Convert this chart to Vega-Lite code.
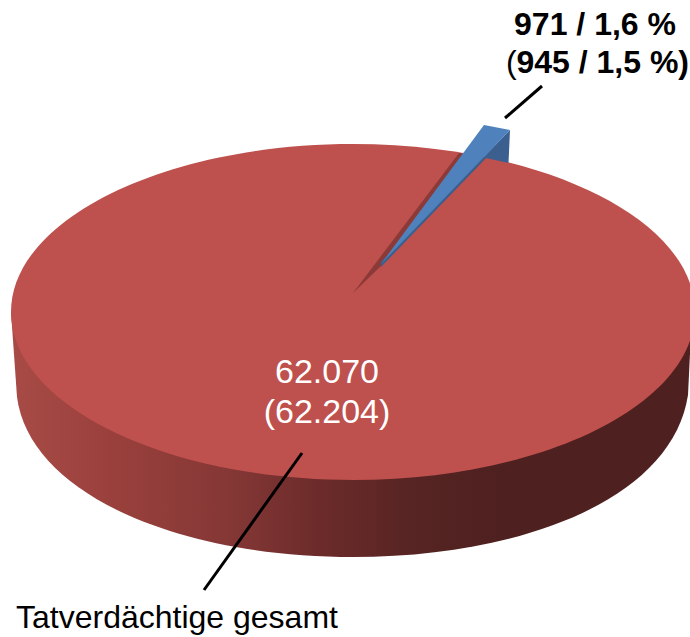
{"$schema":"https://vega.github.io/schema/vega-lite/v6.json","width":690,"height":637,"padding":0,"autosize":"none","background":"white","config":{"view":{"stroke":null},"text":{"font":"Liberation Sans"}},"resolve":{"scale":{"x":"shared","y":"shared"}},"encoding":{"x":{"datum":0,"type":"quantitative","scale":{"domain":[0,690],"nice":false,"zero":false},"axis":null},"y":{"datum":0,"type":"quantitative","scale":{"domain":[0,637],"range":[0,637],"nice":false,"zero":false},"axis":null}},"layer":[
{"data":{"values":[{"slice":"Tatverdächtige gesamt","part":"Mantel","count":62070,"previous":62204}]},"mark":{"type":"point","filled":true,"opacity":1,"size":4,"strokeWidth":0,"shape":"M11,312 L17,397 C30,495 180,557 353,557 C520,557 672,500 688,395 L692,312 Z","fill":{"gradient":"linear","x1":0,"y1":0,"x2":1,"y2":0,"stops":[{"offset":0,"color":"#A84B47"},{"offset":0.15,"color":"#9A403C"},{"offset":0.33,"color":"#833735"},{"offset":0.45,"color":"#6C2B2A"},{"offset":0.6,"color":"#552423"},{"offset":0.72,"color":"#4E201F"},{"offset":1,"color":"#4E201F"}]}}},
{"data":{"values":[{"slice":"Tatverdächtige gesamt","part":"Deckfläche","count":62070,"previous":62204}]},"mark":{"type":"point","filled":true,"opacity":1,"size":4,"strokeWidth":0,"fill":"#BE504D","shape":"M11,312 C11,219 165,144 353,144 C541,144 695,219 695,312 C695,405 541,480 353,480 C165,480 11,405 11,312 Z"}},
{"data":{"values":[{"slice":"Tatverdächtige gesamt","part":"Kerbe","count":62070}]},"mark":{"type":"point","filled":true,"opacity":1,"size":4,"strokeWidth":0,"fill":"#8C3A38","shape":"M353,293 L459,153 L486,158 L381,266 Z"}},
{"data":{"values":[{"slice":"Teilgruppe","part":"Seite","count":971,"share":1.6,"previous":945,"previousShare":1.5}]},"mark":{"type":"point","filled":true,"opacity":1,"size":4,"strokeWidth":0,"fill":"#3B5F8E","shape":"M510,130 L508.5,163 L486,158 L381,267 L381,262 Z"}},
{"data":{"values":[{"slice":"Teilgruppe","part":"Oberseite","count":971,"share":1.6,"previous":945,"previousShare":1.5}]},"mark":{"type":"point","filled":true,"opacity":1,"size":4,"strokeWidth":0,"fill":"#4F81BD","shape":"M484,125 L510,130 L381,264 Z"}},
{"data":{"values":[{"label":"Tatverdächtige gesamt"}]},"mark":{"type":"rule","color":"black","strokeWidth":3},"encoding":{"x":{"datum":204,"type":"quantitative"},"y":{"datum":590,"type":"quantitative"},"x2":{"datum":302},"y2":{"datum":453}}},
{"data":{"values":[{"label":"971 / 1,6 %"}]},"mark":{"type":"rule","color":"black","strokeWidth":3},"encoding":{"x":{"datum":505,"type":"quantitative"},"y":{"datum":118,"type":"quantitative"},"x2":{"datum":542},"y2":{"datum":86}}},
{"data":{"values":[{"label":"62.070"}]},"mark":{"type":"text","fontSize":34,"color":"white","align":"center","baseline":"alphabetic"},"encoding":{"x":{"datum":327,"type":"quantitative"},"y":{"datum":383,"type":"quantitative"},"text":{"field":"label"}}},
{"data":{"values":[{"label":"(62.204)"}]},"mark":{"type":"text","fontSize":34,"color":"white","align":"center","baseline":"alphabetic"},"encoding":{"x":{"datum":327,"type":"quantitative"},"y":{"datum":423,"type":"quantitative"},"text":{"field":"label"}}},
{"data":{"values":[{"label":"Tatverdächtige gesamt"}]},"mark":{"type":"text","fontSize":32,"color":"black","align":"left","baseline":"alphabetic"},"encoding":{"x":{"datum":16,"type":"quantitative"},"y":{"datum":628,"type":"quantitative"},"text":{"field":"label"}}},
{"data":{"values":[{"label":"971 / 1,6 %"}]},"mark":{"type":"text","fontSize":32,"fontWeight":"bold","color":"black","align":"center","baseline":"alphabetic"},"encoding":{"x":{"datum":595,"type":"quantitative"},"y":{"datum":35,"type":"quantitative"},"text":{"field":"label"}}},
{"data":{"values":[{"label":"("}]},"mark":{"type":"text","fontSize":32,"color":"black","align":"left","baseline":"alphabetic"},"encoding":{"x":{"datum":506,"type":"quantitative"},"y":{"datum":73,"type":"quantitative"},"text":{"field":"label"}}},
{"data":{"values":[{"label":"945 / 1,5 %)"}]},"mark":{"type":"text","fontSize":32,"fontWeight":"bold","color":"black","align":"right","baseline":"alphabetic"},"encoding":{"x":{"datum":689,"type":"quantitative"},"y":{"datum":73,"type":"quantitative"},"text":{"field":"label"}}}
]}
